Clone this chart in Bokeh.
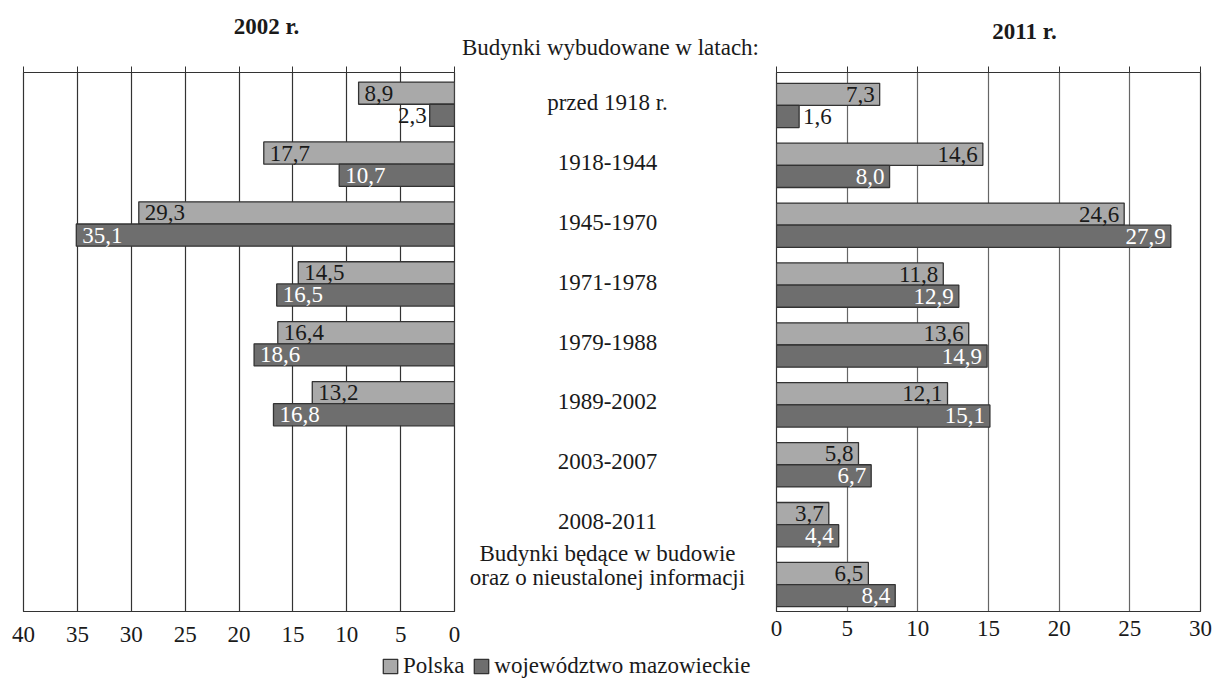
from bokeh.plotting import figure
from bokeh.models import (Range1d, FactorRange, FixedTicker, LinearAxis, Label,
                          ColumnDataSource, Legend, LegendItem, CustomLabelingPolicy)
from bokeh.layouts import row, column
from bokeh.transform import dodge
from bokeh.core.properties import value
from bokeh.embed import file_html
from bokeh.resources import INLINE

# ---------------- data ----------------
categories = ["przed 1918 r.", "1918-1944", "1945-1970", "1971-1978", "1979-1988",
              "1989-2002", "2003-2007", "2008-2011",
              "Budynki będące w budowie\noraz o nieustalonej informacji"]
cats_2002 = categories[:6]
polska_2002 = [8.9, 17.7, 29.3, 14.5, 16.4, 13.2]
mazow_2002 = [2.3, 10.7, 35.1, 16.5, 18.6, 16.8]
polska_2011 = [7.3, 14.6, 24.6, 11.8, 13.6, 12.1, 5.8, 3.7, 6.5]
mazow_2011 = [1.6, 8.0, 27.9, 12.9, 14.9, 15.1, 6.7, 4.4, 8.4]
ticks_2002 = [0, 5, 10, 15, 20, 25, 30, 35, 40]
ticks_2011 = [0, 5, 10, 15, 20, 25, 30]
series_names = ["Polska", "województwo mazowieckie"]
header = "Budynki wybudowane w latach:"
title_2002 = "2002 r."
title_2011 = "2011 r."

# ---------------- style ----------------
FONT = "Liberation Serif"
FS = "23px"
LIGHT = "#a9a9a9"
DARK = "#6e6e6e"
EDGE = "#333333"
TXT = "#1a1a1a"
BAR_H = 0.37
HEAD_H = 60          # header strip (titles)
ROW_H = 590          # panels
LEG_H = 682 - HEAD_H - ROW_H


def fmt(v):
    return f"{v:.1f}".replace(".", ",")


def make_panel(cats, pol, maz, ticks, xr, width, b_left, b_right, frame_top, frame_bot,
               grid_color, left_side, label_standoff, shift):
    p = figure(width=width, height=ROW_H, x_range=xr,
               y_range=FactorRange(factors=list(reversed(categories))),
               output_backend="svg", toolbar_location=None, title=None,
               y_axis_location=None, min_border_left=b_left, min_border_right=b_right,
               min_border_top=frame_top - HEAD_H,
               min_border_bottom=HEAD_H + ROW_H - frame_bot)
    p.outline_line_color = EDGE
    p.outline_line_width = 1.2
    p.ygrid.visible = False
    p.xgrid.ticker = FixedTicker(ticks=ticks)
    p.xgrid.grid_line_color = grid_color
    p.xgrid.grid_line_width = 1.2
    ax = p.xaxis[0]
    ax.ticker = FixedTicker(ticks=ticks)
    ax.major_tick_out = 0
    ax.major_tick_in = 0
    ax.minor_tick_out = 0
    ax.minor_tick_in = 0
    ax.axis_line_color = EDGE
    ax.major_label_text_font = FONT
    ax.major_label_text_font_size = FS
    ax.major_label_text_color = TXT
    ax.major_label_standoff = label_standoff

    top = LinearAxis(ticker=FixedTicker(ticks=ticks), major_tick_out=6, major_tick_in=0,
                     minor_tick_out=0, minor_tick_in=0, major_label_text_font_size="1px",
                     major_label_standoff=0, axis_line_color=None,
                     major_tick_line_color=EDGE,
                     major_label_policy=CustomLabelingPolicy(code="return []"))
    p.add_layout(top, "above")

    small = [v < 3 for v in maz]
    if left_side:
        p_align, p_off = "left", 6
        m_align = ["right" if s else "left" for s in small]
        m_off = [-3 if s else 6 for s in small]
    else:
        p_align, p_off = "right", -5
        m_align = ["left" if s else "right" for s in small]
        m_off = [4 if s else -5 for s in small]
    m_col = [TXT if s else "white" for s in small]

    src = ColumnDataSource(dict(cat=cats, pol=pol, maz=maz,
                                pol_lab=[fmt(v) for v in pol],
                                maz_lab=[fmt(v) for v in maz],
                                m_align=m_align, m_off=m_off, m_col=m_col))
    yp = dodge("cat", BAR_H / 2 - shift, range=p.y_range)
    ym = dodge("cat", -BAR_H / 2 - shift, range=p.y_range)
    p.hbar(y=yp, left=0, right="pol", height=BAR_H, source=src,
           fill_color=LIGHT, line_color=EDGE, line_width=1.3)
    p.hbar(y=ym, left=0, right="maz", height=BAR_H, source=src,
           fill_color=DARK, line_color=EDGE, line_width=1.3)
    p.text(x="pol", y=yp, text="pol_lab", source=src, text_align=p_align, x_offset=p_off,
           text_baseline="middle", text_font=value(FONT), text_font_size=value(FS),
           text_color=TXT)
    p.text(x="maz", y=ym, text="maz_lab", source=src, text_align="m_align",
           x_offset="m_off", text_baseline="middle", text_font=value(FONT),
           text_font_size=value(FS), text_color="m_col")
    return p


# left: frame x 23..454, y 68..614 ; figure x 0..461
left = make_panel(cats_2002, polska_2002, mazow_2002, ticks_2002, Range1d(40, 0),
                  461, 23, 7, 68, 614, "#333333", True, 15, 0.03)
# right: frame x 776..1200, y 72..611 ; figure x 766..1215
right = make_panel(categories, polska_2011, mazow_2011, ticks_2011, Range1d(0, 30),
                   449, 10, 15, 72, 611, "#666666", False, 9, 0.05)

# ---------------- middle labels (figure x 461..766) ----------------
MID_TOP, MID_BOT = 70, 614
mid = figure(width=305, height=ROW_H, x_range=Range1d(-146, 159),
             y_range=FactorRange(factors=list(reversed(categories))),
             output_backend="svg", toolbar_location=None, title=None,
             x_axis_location=None, y_axis_location=None,
             min_border_left=0, min_border_right=0, min_border_top=MID_TOP - HEAD_H,
             min_border_bottom=HEAD_H + ROW_H - MID_BOT)
mid.outline_line_color = None
mid.grid.visible = False
msrc = ColumnDataSource(dict(cat=categories, x=[0] * len(categories),
                             yoff=[-16 if "\n" in c else 0 for c in categories]))
mid.text(x="x", y="cat", text="cat", source=msrc, text_align="center",
         text_baseline="middle", y_offset="yoff", text_font=value(FONT),
         text_font_size=value(FS), text_color=TXT, text_line_height=0.95)

# ---------------- header strip with titles ----------------
hf = figure(width=1215, height=HEAD_H, x_range=Range1d(0, 1215), y_range=Range1d(HEAD_H, 0),
            output_backend="svg", toolbar_location=None, title=None,
            x_axis_location=None, y_axis_location=None, min_border=0)
hf.outline_line_color = None
hf.grid.visible = False
for txt, x, y, style in [(title_2002, 266, 26, "bold"), (title_2011, 1024, 31, "bold"),
                         (header, 610, 47, "normal")]:
    hf.add_layout(Label(x=x, y=y, text=txt, text_align="center", text_baseline="middle",
                        text_font=FONT, text_font_size=FS, text_font_style=style,
                        text_color=TXT))

# ---------------- legend ----------------
lf = figure(width=1215, height=LEG_H, x_range=Range1d(0, 1), y_range=Range1d(0, 1),
            output_backend="svg", toolbar_location=None, title=None,
            x_axis_location=None, y_axis_location=None, min_border=0)
lf.outline_line_color = None
lf.grid.visible = False
nan = float("nan")
proxy = ColumnDataSource(dict(l=[nan], r=[nan], t=[nan], b=[nan]))
r1 = lf.quad(left="l", right="r", top="t", bottom="b", source=proxy,
             fill_color=LIGHT, line_color=EDGE, line_width=1.3)
r2 = lf.quad(left="l", right="r", top="t", bottom="b", source=proxy,
             fill_color=DARK, line_color=EDGE, line_width=1.3)
leg = Legend(items=[LegendItem(label=series_names[0], renderers=[r1]),
                    LegendItem(label=series_names[1], renderers=[r2])],
             orientation="horizontal", location=(381, 3), glyph_width=18, glyph_height=18,
             label_text_font=FONT, label_text_font_size=FS, label_text_color=TXT,
             border_line_color=None, background_fill_alpha=0, padding=0, margin=0,
             spacing=8, label_standoff=4)
lf.add_layout(leg)

layout = column(hf, row(left, mid, right), lf)
open("out.html", "w").write(file_html(layout, INLINE))
